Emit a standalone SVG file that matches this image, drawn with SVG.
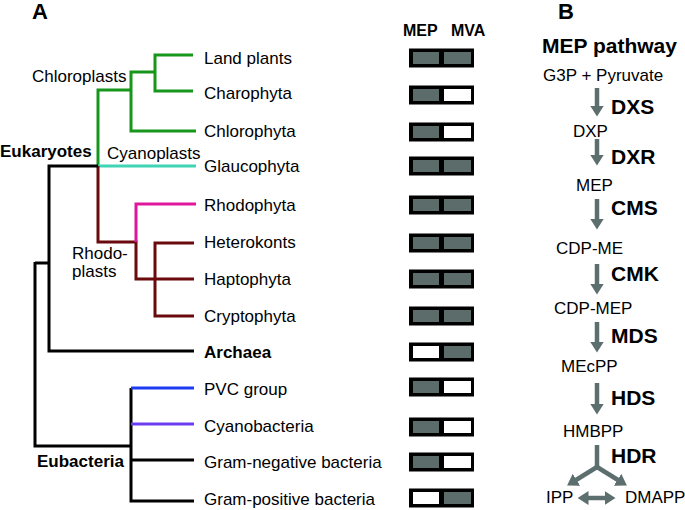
<svg xmlns="http://www.w3.org/2000/svg" width="685" height="510" viewBox="0 0 685 510">
<style>
text{font-family:"Liberation Sans",Arial,sans-serif;font-size:17px;fill:#000}
.b{font-weight:bold}
.big{font-weight:bold;font-size:22px}
.enz{font-weight:bold;font-size:21px}
.hd{font-weight:bold;font-size:16px}
.t{fill:none;stroke-width:3;stroke-linejoin:miter;stroke-linecap:butt}
.g{stroke:#16961a}.cy{stroke:#3ed4b4}.k{stroke:#000}.r{stroke:#6a0a0c}.p{stroke:#e0169c}.bl{stroke:#1c3cf4}.pu{stroke:#6a3cf2}
.box{fill:#000}.on{fill:#5b6c6b}.off{fill:#fff}
.ar{fill:none;stroke:#5c6e6d;stroke-width:4.5}
</style>
<defs>
<marker id="ah" markerUnits="userSpaceOnUse" markerWidth="11" markerHeight="14" viewBox="0 0 11 14" refX="0.5" refY="7" orient="auto-start-reverse"><path d="M0,0 L11,7 L0,14 z" fill="#5c6e6d"/></marker>
</defs>
<text class="big" x="32" y="19">A</text>
<text class="big" x="558" y="19">B</text>
<g id="connectors">
<path class="t g" d="M193,55 H155 V91 H193 M155,72 H131 V131 H196 M131,90 H98 V166"/>
<path class="t cy" d="M98,166 H196"/>
<path class="t r" d="M98,166 V242 H136 V279 H155 M194,243 H155 V316 H194 M155,279 H194"/>
<path class="t p" d="M136,242 V204 H196"/>
<path class="t k" d="M98,166 H49 V351 H194 M35,263 H49 M35,262 V446 H131 M131,388 V501 H194 M131,460 H194"/>
<path class="t bl" d="M131,388 H194"/>
<path class="t pu" d="M131,424 H194"/>
</g>
<g id="labels-tree">
<text x="32" y="82">Chloroplasts</text>
<text class="b" x="0" y="157">Eukaryotes</text>
<text x="107" y="159">Cyanoplasts</text>
<text x="72" y="259">Rhodo-</text>
<text x="72" y="277">plasts</text>
<text class="b" x="37" y="467">Eubacteria</text>
</g>
<g id="taxa">
<text x="204" y="64">Land plants</text>
<text x="204" y="99">Charophyta</text>
<text x="204" y="137">Chlorophyta</text>
<text x="204" y="172">Glaucophyta</text>
<text x="204" y="211">Rhodophyta</text>
<text x="204" y="248">Heterokonts</text>
<text x="204" y="285">Haptophyta</text>
<text x="204" y="322">Cryptophyta</text>
<text class="b" x="204" y="358">Archaea</text>
<text x="204" y="395">PVC group</text>
<text x="204" y="432">Cyanobacteria</text>
<text x="204" y="468">Gram-negative bacteria</text>
<text x="204" y="505">Gram-positive bacteria</text>
</g>
<g id="table">
<text class="hd" x="403" y="36">MEP</text>
<text class="hd" x="451" y="36">MVA</text>
<g id="box1"><rect class="box" x="409" y="48.5" width="65" height="19"/><rect class="on" x="413" y="52" width="26" height="12"/><rect class="on" x="444" y="52" width="27" height="12"/></g>
<g id="box2"><rect class="box" x="409" y="85.5" width="65" height="19"/><rect class="on" x="413" y="89" width="26" height="12"/><rect class="off" x="444" y="89" width="27" height="12"/></g>
<g id="box3"><rect class="box" x="409" y="122.5" width="65" height="19"/><rect class="on" x="413" y="126" width="26" height="12"/><rect class="off" x="444" y="126" width="27" height="12"/></g>
<g id="box4"><rect class="box" x="409" y="156.5" width="65" height="19"/><rect class="on" x="413" y="160" width="26" height="12"/><rect class="on" x="444" y="160" width="27" height="12"/></g>
<g id="box5"><rect class="box" x="409" y="195.5" width="65" height="19"/><rect class="on" x="413" y="199" width="26" height="12"/><rect class="on" x="444" y="199" width="27" height="12"/></g>
<g id="box6"><rect class="box" x="409" y="233.5" width="65" height="19"/><rect class="on" x="413" y="237" width="26" height="12"/><rect class="on" x="444" y="237" width="27" height="12"/></g>
<g id="box7"><rect class="box" x="409" y="269.5" width="65" height="19"/><rect class="on" x="413" y="273" width="26" height="12"/><rect class="on" x="444" y="273" width="27" height="12"/></g>
<g id="box8"><rect class="box" x="409" y="306.5" width="65" height="19"/><rect class="on" x="413" y="310" width="26" height="12"/><rect class="on" x="444" y="310" width="27" height="12"/></g>
<g id="box9"><rect class="box" x="409" y="342.5" width="65" height="19"/><rect class="off" x="413" y="346" width="26" height="12"/><rect class="on" x="444" y="346" width="27" height="12"/></g>
<g id="box10"><rect class="box" x="409" y="377.5" width="65" height="19"/><rect class="on" x="413" y="381" width="26" height="12"/><rect class="off" x="444" y="381" width="27" height="12"/></g>
<g id="box11"><rect class="box" x="409" y="417.5" width="65" height="19"/><rect class="on" x="413" y="421" width="26" height="12"/><rect class="off" x="444" y="421" width="27" height="12"/></g>
<g id="box12"><rect class="box" x="409" y="452.5" width="65" height="19"/><rect class="on" x="413" y="456" width="26" height="12"/><rect class="off" x="444" y="456" width="27" height="12"/></g>
<g id="box13"><rect class="box" x="409" y="488.5" width="65" height="19"/><rect class="off" x="413" y="492" width="26" height="12"/><rect class="on" x="444" y="492" width="27" height="12"/></g>
</g>
<g id="pathway">
<text class="enz" x="542" y="53">MEP pathway</text>
<text x="543" y="81">G3P + Pyruvate</text>
<text x="573" y="137">DXP</text>
<text x="576" y="191">MEP</text>
<text x="556" y="254">CDP-ME</text>
<text x="554" y="314">CDP-MEP</text>
<text x="561" y="372">MEcPP</text>
<text x="563" y="437">HMBPP</text>
<text x="546" y="503">IPP</text>
<text x="625" y="503">DMAPP</text>
<text class="enz" x="611" y="114">DXS</text>
<text class="enz" x="611" y="164">DXR</text>
<text class="enz" x="611" y="215">CMS</text>
<text class="enz" x="611" y="281">CMK</text>
<text class="enz" x="611" y="343">MDS</text>
<text class="enz" x="611" y="405">HDS</text>
<text class="enz" x="611" y="463">HDR</text>
</g>
<g id="pathway-arrows">
<path class="ar" d="M597,88 V106" marker-end="url(#ah)"/>
<path class="ar" d="M597,139 V155" marker-end="url(#ah)"/>
<path class="ar" d="M597,199 V219" marker-end="url(#ah)"/>
<path class="ar" d="M597,264 V284" marker-end="url(#ah)"/>
<path class="ar" d="M597,322 V342" marker-end="url(#ah)"/>
<path class="ar" d="M597,383 V404" marker-end="url(#ah)"/>
<path class="ar" d="M597,445 V467"/>
<path class="ar" d="M597,467 L576,480" marker-end="url(#ah)"/>
<path class="ar" d="M597,467 L618,480" marker-end="url(#ah)"/>
<path class="ar" d="M588,498 H605" marker-start="url(#ah)" marker-end="url(#ah)"/>
</g>
</svg>
